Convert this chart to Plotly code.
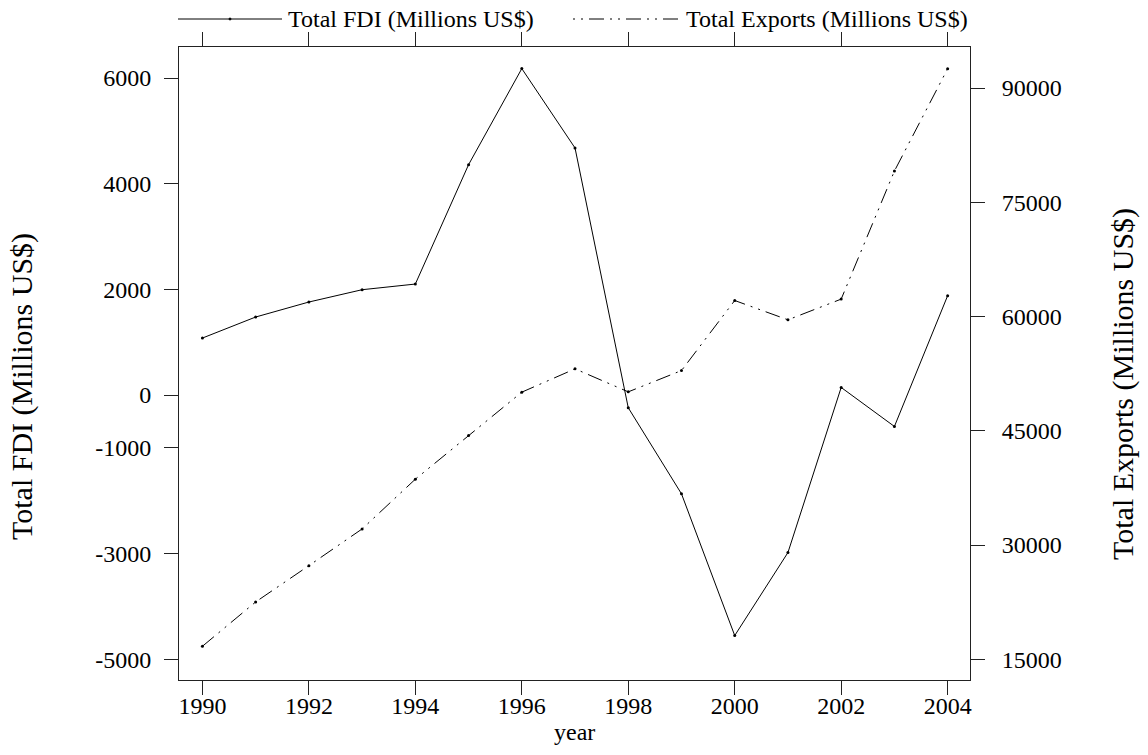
import plotly.graph_objects as go

years = list(range(1990, 2005))
fdi = [1079, 1477, 1761, 1994, 2101, 4360, 6178, 4676, -240, -1869, -4551, -2980, 144, -594, 1880]
exports = [16708, 22526, 27294, 32115, 38643, 44370, 50070, 53131, 50110, 52907,
           62102, 59567, 62286, 79098, 92535]

x_ticks = [1990, 1992, 1994, 1996, 1998, 2000, 2002, 2004]
fdi_ticks = [6000, 4000, 2000, 0, -1000, -3000, -5000]
exp_ticks = [15000, 30000, 45000, 60000, 75000, 90000]

FONT = "Liberation Serif"
W, H = 1148, 755
L, R, T, B = 179, 970, 47, 680  # plot box in pixels
pw, ph = R - L, B - T


def px(x):
    return (x - L) / pw


def py(y):
    return (B - y) / ph


DASH = "15px,6px,2px,6px,2px,6px"

fig = go.Figure()
fig.add_trace(go.Scatter(
    x=years, y=fdi, mode="lines+markers", name="Total FDI (Millions US$)",
    line=dict(color="black", width=1), marker=dict(color="black", size=3),
    showlegend=False, yaxis="y"))
fig.add_trace(go.Scatter(
    x=years, y=exports, mode="lines+markers", name="Total Exports (Millions US$)",
    line=dict(color="black", width=1, dash=DASH), marker=dict(color="black", size=3),
    showlegend=False, yaxis="y2"))

axis_common = dict(
    showgrid=False, zeroline=False, showline=True, linecolor="#222", linewidth=1,
    ticks="outside", ticklen=14, tickwidth=1, tickcolor="#222",
    tickfont=dict(family=FONT, size=24, color="black"),
)

fig.update_layout(
    width=W, height=H,
    margin=dict(l=L, r=W - R, t=T, b=H - B, pad=0),
    paper_bgcolor="white", plot_bgcolor="white",
    font=dict(family=FONT, size=24, color="black"),
    xaxis=dict(range=[1989.56, 2004.42], tickvals=x_ticks,
               ticktext=[str(v) for v in x_ticks], mirror="ticks",
               ticklabelstandoff=-10, **axis_common),
    yaxis=dict(range=[-5392, 6587], tickvals=fdi_ticks,
               ticktext=[str(v) for v in fdi_ticks], side="left",
               ticklabelstandoff=8, **axis_common),
    yaxis2=dict(range=[12281, 95385], tickvals=exp_ticks,
                ticktext=[str(v) for v in exp_ticks], side="right",
                overlaying="y", ticklabelstandoff=12, **axis_common),
    showlegend=False,
)

# Axis titles
fig.add_annotation(text="year", x=px(574.5), y=py(732), xref="paper", yref="paper",
                   showarrow=False, xanchor="center", yanchor="middle",
                   font=dict(family=FONT, size=24, color="black"))
fig.add_annotation(text="Total FDI (Millions US$)", x=px(22), y=py(387), xref="paper",
                   yref="paper", showarrow=False, textangle=-90, xanchor="center",
                   yanchor="middle", font=dict(family=FONT, size=30, color="black"))
fig.add_annotation(text="Total Exports (Millions US$)", x=px(1123), y=py(384), xref="paper",
                   yref="paper", showarrow=False, textangle=-90, xanchor="center",
                   yanchor="middle", font=dict(family=FONT, size=30, color="black"))

# Manual legend at top
ly = py(19)
fig.add_shape(type="line", xref="paper", yref="paper", x0=px(178), x1=px(282), y0=ly, y1=ly,
              line=dict(color="black", width=1))
fig.add_shape(type="circle", xref="paper", yref="paper", x0=px(229), x1=px(231),
              y0=py(20), y1=py(18), line=dict(color="black", width=1), fillcolor="black")
fig.add_annotation(text="Total FDI (Millions US$)", x=px(286), y=ly, xref="paper", yref="paper",
                   showarrow=False, xanchor="left", yanchor="middle",
                   font=dict(family=FONT, size=24, color="black"))
fig.add_shape(type="line", xref="paper", yref="paper", x0=px(573), x1=px(678), y0=ly, y1=ly,
              line=dict(color="black", width=1, dash="2px,6px,2px,6px,15px,6px"))
fig.add_annotation(text="Total Exports (Millions US$)", x=px(684), y=ly, xref="paper",
                   yref="paper", showarrow=False, xanchor="left", yanchor="middle",
                   font=dict(family=FONT, size=24, color="black"))

fig.write_html("out.html")
